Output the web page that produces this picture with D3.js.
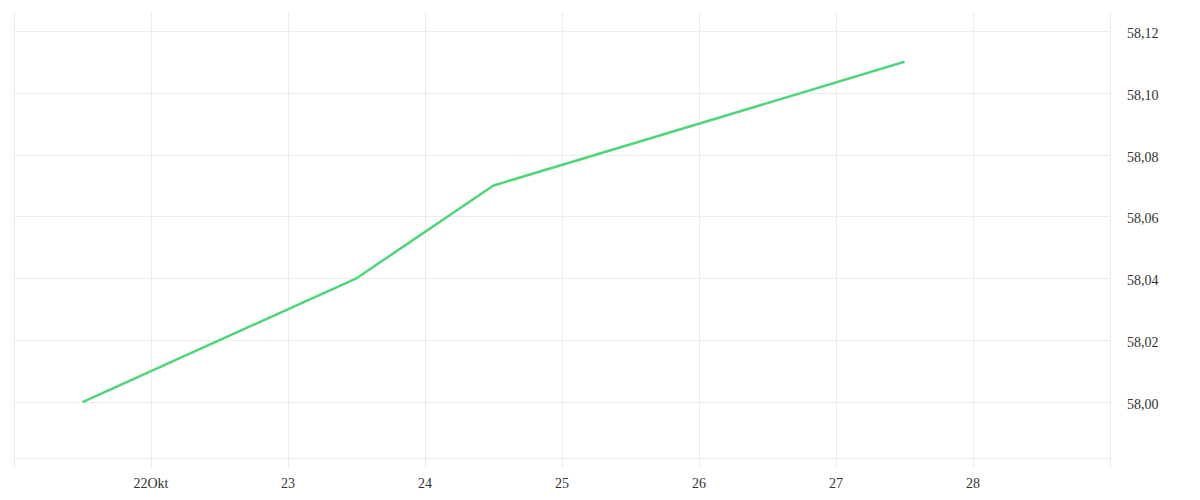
<!DOCTYPE html>
<html>
<head>
<meta charset="utf-8">
<script src="https://cdn.jsdelivr.net/npm/d3@7"></script>
<style>
  body { margin: 0; background: #fff; }
  svg { display: block; }
</style>
</head>
<body>
<svg width="1200" height="500"></svg>
<script>
// data (days of October, noon values)
const dates = ['2023-10-21T12:00', '2023-10-23T12:00', '2023-10-24T12:00', '2023-10-27T12:00'];
const values = [58.00, 58.04, 58.07, 58.11];
const xDomain = ['2023-10-21T00:00', '2023-10-29T00:00'];
const yTicks = [58.00, 58.02, 58.04, 58.06, 58.08, 58.10, 58.12];

const parse = d3.timeParse('%Y-%m-%dT%H:%M');
const points = dates.map((d, i) => ({ date: parse(d), value: values[i] }));

const svg = d3.select('svg');
const plotLeft = 14, plotRight = 1110, plotTop = 12, plotBottom = 458;

const x = d3.scaleTime()
    .domain(xDomain.map(parse))
    .range([plotLeft, plotRight]);

const y = d3.scaleLinear()
    .domain([57.9819, 58.1261])
    .range([plotBottom, plotTop]);

const grid = svg.append('g')
    .attr('stroke', '#ebebeb')
    .attr('stroke-width', 1)
    .attr('shape-rendering', 'crispEdges');

// horizontal grid
grid.selectAll('line.h')
    .data(yTicks)
    .enter()
    .append('line')
    .attr('class', 'h')
    .attr('x1', plotLeft)
    .attr('x2', plotRight)
    .attr('y1', d => Math.round(y(d)) + 0.5)
    .attr('y2', d => Math.round(y(d)) + 0.5);

grid.append('line')
    .attr('x1', plotLeft)
    .attr('x2', plotRight)
    .attr('y1', plotBottom + 0.5)
    .attr('y2', plotBottom + 0.5);

// vertical grid, one per day, running past the bottom as ticks
const days = d3.timeDay.range(x.domain()[0], d3.timeDay.offset(x.domain()[1], 1));
grid.selectAll('line.v')
    .data(days)
    .enter()
    .append('line')
    .attr('class', 'v')
    .attr('x1', d => Math.round(x(d)) + 0.5)
    .attr('x2', d => Math.round(x(d)) + 0.5)
    .attr('y1', plotTop)
    .attr('y2', plotBottom + 10);

// x labels
const fmtDay = d => d.getDate() === 22 ? d.getDate() + 'Okt' : String(d.getDate());
svg.append('g')
    .selectAll('text')
    .data(days.filter(d => d.getDate() >= 22 && d.getDate() <= 28))
    .enter()
    .append('text')
    .attr('x', d => x(d))
    .attr('y', 488)
    .attr('text-anchor', 'middle')
    .style('font', '14px "Liberation Serif", serif')
    .attr('fill', '#333')
    .text(fmtDay);

// y labels
svg.append('g')
    .selectAll('text')
    .data(yTicks)
    .enter()
    .append('text')
    .attr('x', 1127)
    .attr('y', d => y(d) + 7)
    .style('font', '14px "Liberation Serif", serif')
    .attr('fill', '#333')
    .text(d => d.toFixed(2).replace('.', ','));

// the line
const line = d3.line()
    .x(d => x(d.date))
    .y(d => y(d.value));

svg.append('path')
    .datum(points)
    .attr('fill', 'none')
    .attr('stroke', '#4fd67b')
    .attr('stroke-width', 2.5)
    .attr('stroke-linejoin', 'round')
    .attr('d', line);
</script>
</body>
</html>
